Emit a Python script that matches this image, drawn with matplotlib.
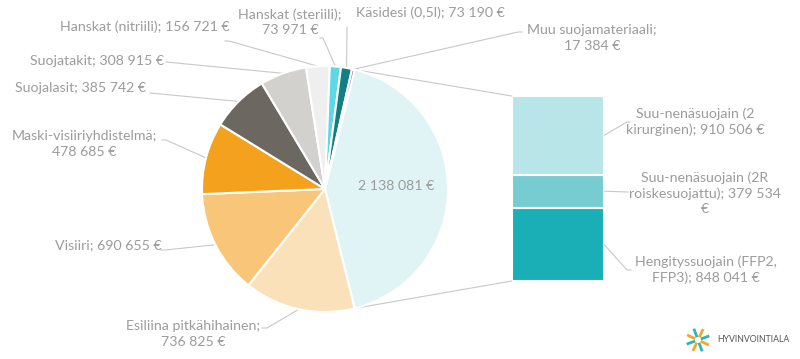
import numpy as np
import matplotlib.pyplot as plt

# pie slices, clockwise from the "other" slice
pie_labels = ['', 'Esiliina pitkähihainen;\n736 825 €', 'Visiiri; 690 655 €',
              'Maski-visiiriyhdistelmä;\n478 685 €', 'Suojalasit; 385 742 €',
              'Suojatakit; 308 915 €', 'Hanskat (nitriili); 156 721 €',
              'Hanskat (steriili);\n73 971 €', 'Käsidesi (0,5l); 73 190 €',
              'Muu suojamateriaali;\n17 384 €']
pie_values = [2138081, 736825, 690655, 478685, 385742, 308915, 156721, 73971, 73190, 17384]
pie_colors = ['#e1f4f5', '#fbe1b9', '#f9c679', '#f4a11e', '#6c6761', '#d3d1cd',
              '#efefef', '#5cd8e6', '#137f84', '#7b3fb0']

# bar of the "other" slice, bottom to top
bar_labels = ['Hengityssuojain (FFP2,\nFFP3); 848 041 €',
              'Suu-nenäsuojain (2R\nroiskesuojattu); 379 534\n€',
              'Suu-nenäsuojain (2\nkirurginen); 910 506 €']
bar_values = [848041, 379534, 910506]
bar_colors = ['#1aaeb7', '#76ccd1', '#b8e5e8']

W, H = 800, 359
txt_col = '#9c9c9c'
line_col = '#c8c8c8'
plt.rcParams['font.family'] = ['Lato', 'DejaVu Sans']
fs = 10.2

def fy(y):
    return H - y

fig = plt.figure(figsize=(W / 100, H / 100), dpi=100)
ax = fig.add_axes([0, 0, 1, 1])

cx, cy, r = 325, fy(189), 123
total = sum(pie_values)
start = 180 * pie_values[0] / total
wedges, _ = ax.pie(pie_values, colors=pie_colors, startangle=start, counterclock=False,
                   center=(cx, cy), radius=r, frame=True,
                   wedgeprops=dict(edgecolor='white', linewidth=1.5))
ax.set_xlim(0, W)
ax.set_ylim(0, H)
ax.axis('off')

# label text positions (pixel, centre of block) and leader start points
pie_text_pos = [None, (193, 334), (108, 245), (84, 144), (81, 88), (97, 61),
                (145, 27), (290, 22), (430, 13), (592, 38)]
pie_leader = [None, [(262, 328), (267, 328)], [(161, 250), (165, 250)],
              [(162, 140), (166, 140)], [(150, 93)], [(166, 62)],
              [(225, 41), (229, 41)], [(320, 38), (323, 38)], [(347, 27)],
              [(522, 32), (518, 32)]]

for i, w in enumerate(wedges):
    if i == 0:
        ax.text(396, fy(186), '2 138 081 €', ha='center', va='center',
                color=txt_col, fontsize=fs)
        continue
    mid = np.radians((w.theta1 + w.theta2) / 2)
    ex, ey = cx + r * np.cos(mid), cy + r * np.sin(mid)
    pts = pie_leader[i]
    xs = [p[0] for p in pts] + [ex]
    ys = [fy(p[1]) for p in pts] + [ey]
    ax.plot(xs, ys, color=line_col, lw=0.8, zorder=0)
    tx, ty = pie_text_pos[i]
    ax.text(tx, fy(ty), pie_labels[i], ha='center', va='center', color=txt_col,
            fontsize=fs, multialignment='center', linespacing=1.3)

# bar of pie
bx0, bx1, by0, by1 = 511.7, 604, 281, 96
bax = fig.add_axes([bx0 / W, fy(by0) / H, (bx1 - bx0) / W, (by0 - by1) / H])
bottoms = np.cumsum([0] + bar_values[:-1])
bax.bar(0, bar_values, bottom=bottoms, width=1, color=bar_colors,
        edgecolor='white', linewidth=1.5)
bax.set_xlim(-0.5, 0.5)
bax.set_ylim(0, sum(bar_values))
bax.axis('off')

# connectors pie -> bar
w0 = wedges[0]
for ang, by in [(w0.theta2, by1), (w0.theta1, by0)]:
    a = np.radians(ang)
    ax.plot([cx + r * np.cos(a), bx0], [cy + r * np.sin(a), fy(by)],
            color=line_col, lw=0.8, zorder=0)

bar_text_pos = [(706, 270), (705, 193), (695, 122)]
bar_leader = [[(627, 270), (631, 270)], [(628, 192)], [(627, 122), (630, 122)]]
scale = (by0 - by1) / sum(bar_values)
for i, v in enumerate(bar_values):
    my = by0 - (bottoms[i] + v / 2) * scale
    xs = [bx1] + [p[0] for p in bar_leader[i]]
    ys = [fy(my)] + [fy(p[1]) for p in bar_leader[i]]
    ax.plot(xs, ys, color=line_col, lw=0.8, zorder=0)
    tx, ty = bar_text_pos[i]
    ax.text(tx, fy(ty), bar_labels[i], ha='center', va='center', color=txt_col,
            fontsize=fs, multialignment='center', linespacing=1.3)

# logo
lx, ly = 698, fy(340)
for k, ang in enumerate(range(20, 380, 45)):
    a = np.radians(ang)
    c = '#2bb5c0' if k % 2 == 0 else '#f5a623'
    ax.plot([lx + 3 * np.cos(a), lx + 12 * np.cos(a)],
            [ly + 3 * np.sin(a), ly + 12 * np.sin(a)], color=c, lw=2,
            solid_capstyle='butt')
ax.text(717, ly, 'HYVINVOINTIALA', ha='left', va='center', color='#555555',
        fontsize=6.3)

fig.savefig('out.png', dpi=100)
